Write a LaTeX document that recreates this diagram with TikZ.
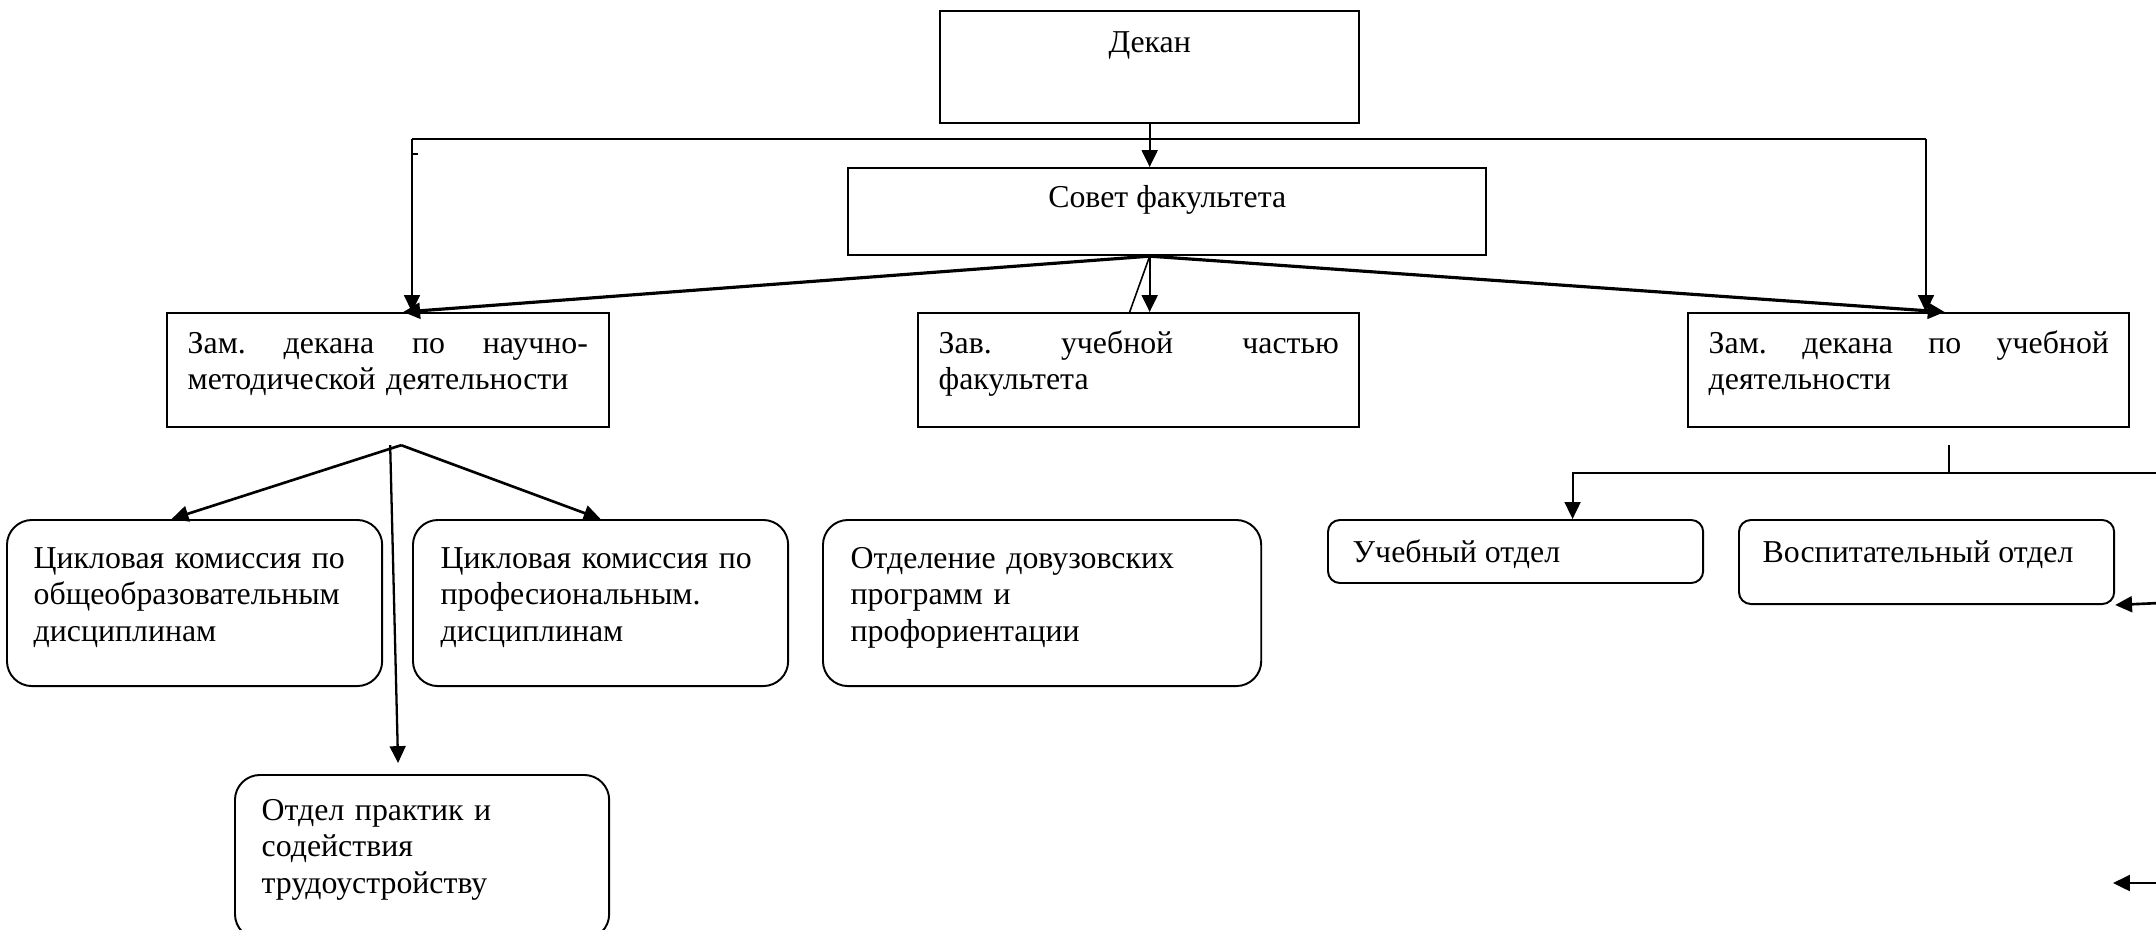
\documentclass[tikz,border=0pt]{standalone}
\usepackage{fontspec}
\setmainfont{Liberation Serif}
\usetikzlibrary{arrows.meta}

\begin{document}
\begin{tikzpicture}[x=0.01cm,y=-0.01cm,font=\fontsize{9.05pt}{10.4pt}\selectfont,
	box/.style={draw,line width=0.6pt,anchor=north west,inner sep=0pt},
	rbox/.style={box,line width=0.55pt,rounded corners=0.25cm},
	sbox/.style={box,line width=0.55pt,rounded corners=0.12cm},
	txt/.style={inner sep=0pt,anchor=base west,align=left},
	arr/.style={line width=0.65pt,-{Triangle[length=4.8pt,width=4.5pt]}}]
			\useasboundingbox (0,0) rectangle (2156,929);
			\node[box,minimum width=4.19cm,minimum height=1.12cm] (dekan) at (939,10) {};
			\node[box,minimum width=6.38cm,minimum height=0.87cm] (sovet) at (847,167) {};
			\node[box,minimum width=4.42cm,minimum height=1.14cm] (zamnm) at (166,312) {};
			\node[box,minimum width=4.41cm,minimum height=1.14cm] (zavuch) at (917,312) {};
			\node[box,minimum width=4.41cm,minimum height=1.14cm] (zamuch) at (1687,312) {};
			\node[rbox,minimum width=3.75cm,minimum height=1.66cm] (cikl1) at (6,519) {};
			\node[rbox,minimum width=3.75cm,minimum height=1.66cm] (cikl2) at (412,519) {};
			\node[rbox,minimum width=4.38cm,minimum height=1.66cm] (dovuz) at (822,519) {};
			\node[rbox,minimum width=3.74cm,minimum height=1.64cm] (praktika) at (234,774) {};
			\node[sbox,minimum width=3.75cm,minimum height=0.63cm] (uchotd) at (1327,519) {};
			\node[sbox,minimum width=3.75cm,minimum height=0.84cm] (vospit) at (1738,519) {};

			\node[txt,anchor=base] (tdekan) at ([shift={(0,42)}]dekan.north) {Декан};
			\node[txt,anchor=base] (tsovet) at ([shift={(0,40)}]sovet.north) {Совет факультета};
			\node[txt,text width=4cm] (tzamnm) at ([shift={(21,41)}]zamnm.north west) {Зам.\hfill декана\hfill по\hfill научно-\\методической деятельности};
			\node[txt,text width=4cm] (tzavuch) at ([shift={(21,41)}]zavuch.north west) {Зав.\hfill учебной\hfill частью\\факультета};
			\node[txt,text width=4cm] (tzamuch) at ([shift={(21,41)}]zamuch.north west) {Зам.\hfill декана\hfill по\hfill учебной\\деятельности};
			\node[txt,text width=3.5cm] (tcikl1) at ([shift={(27,49)}]cikl1.north west) {Цикловая комиссия по\\общеобразовательным\\дисциплинам};
			\node[txt,text width=3.5cm] (tcikl2) at ([shift={(28,49)}]cikl2.north west) {Цикловая комиссия по\\професиональным.\\дисциплинам};
			\node[txt,text width=3.9cm] (tdovuz) at ([shift={(28,49)}]dovuz.north west) {Отделение довузовских\\программ и\\профориентации};
			\node[txt,text width=3.4cm] (tpraktika) at ([shift={(27,46)}]praktika.north west) {Отдел практик и\\содействия\\трудоустройству};
			\node[txt] (tuchotd) at ([shift={(25,43)}]uchotd.north west) {Учебный отдел};
			\node[txt] (tvospit) at ([shift={(24,43)}]vospit.north west) {Воспитательный отдел};

			\coordinate (sv) at (dekan.south |- sovet.south);
			\coordinate (busL) at (412,139);
			\coordinate (busR) at (1926,139);
			\coordinate (zt) at (sv |- zavuch.north);
			\coordinate (zn) at ([shift={(13,17)}]zamnm.south);
			\coordinate (zu) at ([shift={(40,17)}]zamuch.south);
			\coordinate (uj) at ([shift={(57,-46)}]uchotd.north);
			\coordinate (edgeR) at (2160,473);
			\coordinate (inR1) at (2160,603);
			\coordinate (inR2) at (2160,883);
			\coordinate (outR2) at (2113,883);

			\draw[arr] (dekan.south) -- (dekan.south |- sovet.north);
			\draw[line width=0.65pt] (busL) -- (busR);
			\draw[arr] (busL) -- (busL |- zamnm.north);
			\draw[arr] (busR) -- (busR |- zamuch.north);
			\draw[line width=0.65pt] ([yshift=-0.15cm]busL) -- ++(6,0);
			\draw[arr,line width=0.9pt] (sv) -- ([xshift=0.15cm]zamnm.north);
			\draw[arr,line width=0.9pt] (sv) -- ([xshift=0.36cm]zamuch.north);
			\draw[arr] (sv) -- (zt);
			\draw[line width=0.45pt] (sv) -- ([xshift=-0.2cm]zt);
			\draw[arr,line width=0.75pt] (zn) -- ([xshift=-0.23cm]cikl1.north);
			\draw[arr,line width=0.75pt] (zn) -- (cikl2.north);
			\draw[arr] ([xshift=-0.11cm]zn) -- ([shift={(-24,-11)}]praktika.north);
			\draw[line width=0.55pt] (zu) -- (zu |- uj);
			\draw[arr,line width=0.55pt] (edgeR) -- (uj) -- (uj |- uchotd.north);
			\draw[arr,line width=0.75pt] (inR1) -- (vospit.south east);
			\draw[arr,line width=0.75pt] (inR2) -- (outR2);
		\end{tikzpicture}
\end{document}
